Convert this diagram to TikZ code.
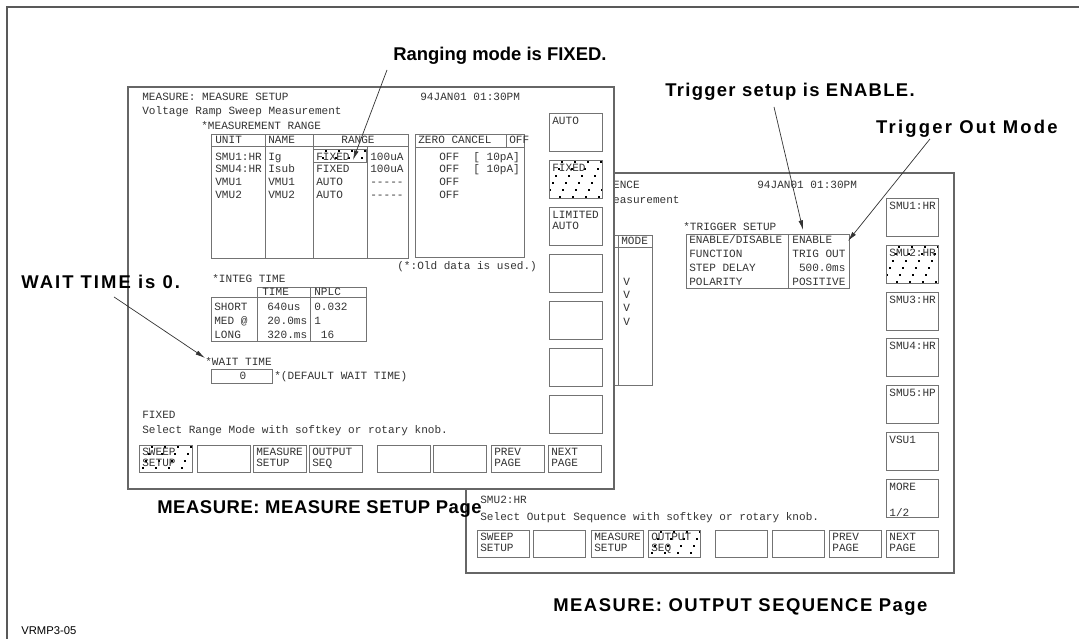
\documentclass[tikz,border=0pt]{standalone}
\usepackage{fontspec}
\usetikzlibrary{arrows.meta}
\newfontfamily\scrfont{Liberation Mono}
\newfontfamily\lblfont{Liberation Sans}
\newfontfamily\tagfont{Liberation Sans}

\tikzset{
  scr/.style={font=\scrfont\fontsize{6.3}{7}\selectfont, text=black!80,
    inner sep=0pt, anchor=west, text height=4.1pt, text depth=0pt},
  scrbox/.style={draw=black!60, line width=0.6pt},
  scrline/.style={draw=black!55, line width=0.5pt},
  dotbox/.style={path picture={
    \foreach \i in {-1,...,5} \foreach \j in {0,...,5}
      \fill[black] ([shift={(\i*13+12-3*\j,\j*7+1)}]path picture bounding box.north west)
        rectangle ++(2,2);}},
  lbl/.style={font=\lblfont\bfseries\fontsize{10.5}{12}\selectfont\addfontfeature{LetterSpace=#1},
    inner sep=0pt, text height=7.5pt, text depth=0pt},
  lbl/.default=7,
  callout/.style={draw=black!80, line width=0.4pt, -{Latex[length=5.5pt,width=2.6pt]}},
}

\begin{document}
\begin{tikzpicture}[x=0.02cm, y=-0.02cm]
  \useasboundingbox (0,0) rectangle (1079,639);
  \draw[black!65, line width=0.8pt] (7,639) -- (7,7) -- (1079,7);

  % OUTPUT SEQUENCE page, behind
  \draw[scrbox, fill=white] (466,173) rectangle (954,573);
  \node[scr] (rtitle) at (480,185) {MEASURE: OUTPUT SEQUENCE};
  \node[scr] (rdate) at (757,185) {94JAN01 01:30PM};
  \node[scr] (rsub) at (480,200) {Voltage Ramp Sweep Measurement};
  \draw[scrline] (480,235) rectangle (652,385) (480,247) -- (652,247)
        (618,235) -- (618,385);
  \node[scr] (rmode) at (621,241) {MODE};
  \foreach \yy [count=\i] in {282,295,308,322}
    \node[scr] (rv\i) at (623,\yy) {V};
  \node[scr] (rtrig) at (683,227) {*TRIGGER SETUP};
  \draw[scrline] (686,234) rectangle (849,288) (788,234) -- (788,288);
  \foreach \yy/\la/\lb [count=\i] in {240/{ENABLE/DISABLE}/ENABLE,
      254/FUNCTION/TRIG OUT, 268/STEP DELAY/\phantom{0}500.0ms, 282/POLARITY/POSITIVE} {
    \node[scr] (rtka\i) at (689,\yy) {\la};
    \node[scr] (rtkb\i) at (792,\yy) {\lb};
  }
  \path[dotbox] (886,245) rectangle ++(52,38);
  \foreach \yy/\la [count=\i] in {198/SMU1:HR, 245/SMU2:HR, 292/SMU3:HR,
      338/SMU4:HR, 385/SMU5:HP, 432/VSU1, 479/MORE} {
    \draw[scrline] (886,\yy) rectangle ++(52,38);
    \node[scr] (rsoft\i) at (889,\yy+8) {\la};
  }
  \node[scr] (rpage) at (889,513) {1/2};
  \node[scr] (rfield) at (480,500) {SMU2:HR};
  \node[scr] (rhelp) at (480,517) {Select Output Sequence with softkey or rotary knob.};
  \path[dotbox] (648,530) rectangle ++(52,27);
  \foreach \xx/\la/\lb [count=\i] in {477/SWEEP/SETUP, 533//, 591/MEASURE/SETUP,
      648/OUTPUT/SEQ, 715//, 772//, 829/PREV/PAGE, 886/NEXT/PAGE} {
    \draw[scrline] (\xx,530) rectangle ++(52,27);
    \node[scr] (rkeya\i) at (\xx+3,537) {\la};
    \node[scr] (rkeyb\i) at (\xx+3,548) {\lb};
  }

  % MEASURE SETUP page, in front
  \draw[scrbox, fill=white] (128,87) rectangle (614,489);
  \node[scr] (ltitle) at (142,97) {MEASURE: MEASURE SETUP};
  \node[scr] (ldate) at (420,97) {94JAN01 01:30PM};
  \node[scr] (lsub) at (142,111) {Voltage Ramp Sweep Measurement};
  \node[scr] (lrange) at (201,126) {*MEASUREMENT RANGE};
  \path[dotbox] (313,149) rectangle (366,162);
  \draw[scrline] (211,134) rectangle (408,258) (211,146) -- (408,146)
        (265,134) -- (265,258) (313,134) -- (313,258) (367,146) -- (367,258)
        (313,149) rectangle (366,162);
  \node[scr] (hunit) at (215,140) {UNIT};
  \node[scr] (hname) at (268,140) {NAME};
  \node[scr, anchor=center] (hrange) at (358,140) {RANGE};
  \foreach \yy/\la/\lb/\lc/\ld [count=\i] in {157/SMU1:HR/Ig/FIXED/100uA,
      169/SMU4:HR/Isub/FIXED/100uA, 182/VMU1/VMU1/AUTO/-{}-{}-{}-{}-,
      195/VMU2/VMU2/AUTO/-{}-{}-{}-{}-} {
    \node[scr] (runit\i) at (215,\yy) {\la};
    \node[scr] (rname\i) at (268,\yy) {\lb};
    \node[scr] (rmod\i) at (316,\yy) {\lc};
    \node[scr] (rval\i) at (370,\yy) {\ld};
  }
  \draw[scrline] (415,134) rectangle (524,257) (415,147) -- (524,147)
        (506,134) -- (506,147);
  \node[scr] (hzero) at (418,140) {ZERO CANCEL};
  \node[scr] (hoff) at (509,140) {OFF};
  \foreach \yy/\la [count=\i] in {157/{[ 10pA]}, 169/{[ 10pA]}, 182/, 195/} {
    \node[scr] (zoff\i) at (439,\yy) {OFF};
    \node[scr] (zval\i) at (473,\yy) {\la};
  }
  \node[scr] (lold) at (397,266) {(*:Old data is used.)};
  \path[dotbox] (549,160) rectangle ++(53,38);
  \foreach \yy/\la/\lb [count=\i] in {113/AUTO/, 160/FIXED/, 207/LIMITED/AUTO,
      254//, 301//, 348//, 395//} {
    \draw[scrline] (549,\yy) rectangle ++(53,38);
    \node[scr] (lsofta\i) at (552,\yy+8) {\la};
    \node[scr] (lsoftb\i) at (552,\yy+19) {\lb};
  }
  \node[scr] (linteg) at (212,279) {*INTEG TIME};
  \draw[scrline] (257,287) rectangle (366,341) (211,297) rectangle (257,341)
        (257,297) -- (366,297) (310,287) -- (310,341);
  \node[scr] (htime) at (262,292) {TIME};
  \node[scr] (hnplc) at (314,292) {NPLC};
  \foreach \yy/\la/\lb/\lc [count=\i] in {307/SHORT/640us/0.032, 321/MED @/20.0ms/1,
      335/LONG/320.ms/\phantom{0}16} {
    \node[scr] (ispeed\i) at (214,\yy) {\la};
    \node[scr] (itime\i) at (267,\yy) {\lb};
    \node[scr] (inplc\i) at (314,\yy) {\lc};
  }
  \node[scr] (lwait) at (205,362) {*WAIT TIME};
  \draw[scrline] (211,369) rectangle (272,383);
  \node[scr, anchor=center] (lwaitval) at (243,376) {0};
  \node[scr] (ldefault) at (274,376) {*(DEFAULT WAIT TIME)};
  \node[scr] (lfield) at (142,415) {FIXED};
  \node[scr] (lhelp) at (142,430) {Select Range Mode with softkey or rotary knob.};
  \path[dotbox] (139,445) rectangle ++(53,27);
  \foreach \xx/\la/\lb [count=\i] in {139/SWEEP/SETUP, 197//, 253/MEASURE/SETUP,
      309/OUTPUT/SEQ, 377//, 433//, 491/PREV/PAGE, 548/NEXT/PAGE} {
    \draw[scrline] (\xx,445) rectangle ++(53,27);
    \node[scr] (lkeya\i) at (\xx+3,452) {\la};
    \node[scr] (lkeyb\i) at (\xx+3,463) {\lb};
  }

  % callouts
  \node[lbl=0, anchor=west] (rangelbl) at (393,54) {Ranging mode is FIXED.};
  \coordinate (rangetip) at (353,160);
  \draw[callout] ([shift={(-6,9)}]rangelbl.south west) -- (rangetip);
  \node[lbl, anchor=west] (triglbl) at (665,90) {Trigger setup is ENABLE.};
  \coordinate (trigtip) at (803,230);
  \draw[callout] ([shift={(109,10)}]triglbl.south west) -- (trigtip);
  \node[lbl=12, anchor=east] (outlbl) at (1058,127) {Trigger Out Mode};
  \coordinate (outtip) at (848,241);
  \draw[callout] ([shift={(-128,5)}]outlbl.south east) -- (outtip);
  \node[lbl=11, anchor=west] (waitlbl) at (21,282) {WAIT TIME is 0.};
  \coordinate (waittip) at (205,358);
  \draw[callout] ([shift={(93,8)}]waitlbl.south west) -- (waittip);
  \node[lbl=3, anchor=east] (setuppage) at (482,507) {MEASURE: MEASURE SETUP Page};
  \node[lbl=8, anchor=west] (seqpage) at (553,605) {MEASURE: OUTPUT SEQUENCE Page};
  \node[font=\tagfont\fontsize{6.4}{7}\selectfont, inner sep=0pt, anchor=west]
    (figtag) at (21,631) {VRMP3-05};
\end{tikzpicture}
\end{document}
